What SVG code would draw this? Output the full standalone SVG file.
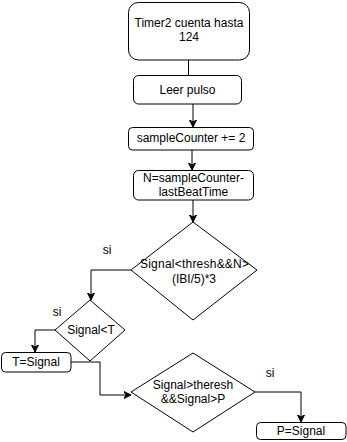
<svg xmlns="http://www.w3.org/2000/svg" width="347" height="442" viewBox="0 0 347 442">
  <style>
    .box { fill: #ffffff; stroke: #000000; stroke-width: 1; }
    .lbl { font-family: "Liberation Sans", Arial, sans-serif; font-size: 12px; fill: #000000; text-anchor: middle; }
    .edge { fill: none; stroke: #000000; stroke-width: 1; }
    .arrow { marker-end: url(#head); }
  </style>
  <defs>
    <marker id="head" markerWidth="8" markerHeight="8" refX="7" refY="4" orient="auto" markerUnits="userSpaceOnUse">
      <path d="M0,0.5 L7,4 L0,7.5 L2,4 Z" fill="#000000" stroke="#000000" stroke-width="1"/>
    </marker>
  </defs>
  <rect width="347" height="442" fill="#ffffff"/>

  <g id="connectors">
    <path class="edge" d="M188.5,60 V75"/>
    <path class="edge arrow" d="M193,104 V127"/>
    <path class="edge arrow" d="M192,150 V170"/>
    <path class="edge arrow" d="M193,200 V222"/>
    <path class="edge arrow" d="M131,270 H91 V300"/>
    <path class="edge arrow" d="M55,330 H35 V352"/>
    <path class="edge" d="M71,362 H100 V395"/>
    <path class="edge arrow" d="M100,395 H131"/>
    <path class="edge arrow" d="M255,392 H301 V422"/>
  </g>

  <g id="timer2">
    <rect class="box" x="128.5" y="2.5" width="121" height="57.5" rx="10"/>
    <text class="lbl" x="189" y="27">Timer2 cuenta hasta</text>
    <text class="lbl" x="189" y="41">124</text>
  </g>

  <g id="leer-pulso">
    <rect class="box" x="133.5" y="75.5" width="108" height="28.5" rx="5"/>
    <text class="lbl" x="187.5" y="94">Leer pulso</text>
  </g>

  <g id="sample-counter">
    <rect class="box" x="128.5" y="127.5" width="125" height="22.5" rx="4"/>
    <text class="lbl" x="191" y="142">sampleCounter += 2</text>
  </g>

  <g id="n-calc">
    <rect class="box" x="133.5" y="170.5" width="120" height="29.5" rx="5"/>
    <text class="lbl" x="193.5" y="182">N=sampleCounter-</text>
    <text class="lbl" x="193.5" y="196">lastBeatTime</text>
  </g>

  <g id="check-thresh">
    <polygon class="box" points="193,222 257,270 193,320 131,270"/>
    <text class="lbl" x="194.5" y="268" textLength="109" lengthAdjust="spacing">Signal&lt;thresh&amp;&amp;N&gt;</text>
    <text class="lbl" x="194" y="283">(IBI/5)*3</text>
    <text class="lbl" x="107" y="254">si</text>
  </g>

  <g id="check-t">
    <polygon class="box" points="90,300 125,330 90,361 55,330"/>
    <text class="lbl" x="91" y="334">Signal&lt;T</text>
    <text class="lbl" x="57" y="316">si</text>
  </g>

  <g id="t-signal">
    <rect class="box" x="1.5" y="352.5" width="69.5" height="19.5" rx="4"/>
    <text class="lbl" x="36" y="366">T=Signal</text>
  </g>

  <g id="check-p">
    <polygon class="box" points="193,353 255,392 193,432 131,392"/>
    <text class="lbl" x="193" y="389">Signal&gt;theresh</text>
    <text class="lbl" x="193" y="403">&amp;&amp;Signal&gt;P</text>
    <text class="lbl" x="270" y="377">si</text>
  </g>

  <g id="p-signal">
    <rect class="box" x="256.5" y="422.5" width="89.5" height="17" rx="4"/>
    <text class="lbl" x="301" y="435">P=Signal</text>
  </g>
</svg>
